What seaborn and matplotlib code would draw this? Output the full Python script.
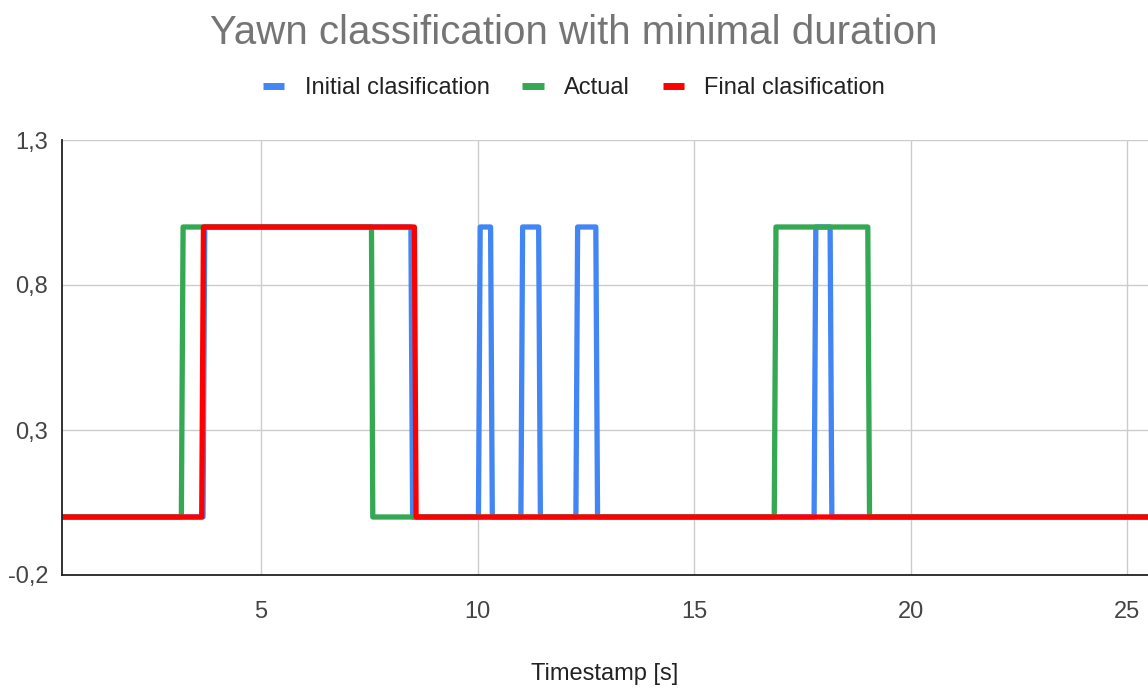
import matplotlib
matplotlib.use("Agg")
import matplotlib.pyplot as plt
from matplotlib.lines import Line2D
from matplotlib.ticker import FuncFormatter
import seaborn as sns
import pandas as pd

# ---- data ----
series_names = ["Initial clasification", "Actual", "Final clasification"]

initial_t = [0.40, 3.66, 3.70, 8.46, 8.50, 10.02, 10.06, 10.30, 10.34, 11.00, 11.04,
             11.41, 11.45, 12.27, 12.31, 12.73, 12.77, 17.77, 17.81, 18.14, 18.18, 25.48]
initial_v = [0, 0, 1, 1, 0, 0, 1, 1, 0, 0, 1, 1, 0, 0, 1, 1, 0, 0, 1, 1, 0, 0]

actual_t = [0.40, 3.16, 3.20, 7.55, 7.58, 16.85, 16.89, 19.01, 19.05, 25.48]
actual_v = [0, 0, 1, 1, 0, 0, 1, 1, 0, 0]

final_t = [0.40, 3.63, 3.67, 8.54, 8.58, 25.48]
final_v = [0, 0, 1, 1, 0, 0]

x_ticks = [5, 10, 15, 20, 25]
y_ticks = [-0.2, 0.3, 0.8, 1.3]

colors = {"Initial clasification": "#4285F4", "Actual": "#34A853", "Final clasification": "#FF0000"}

frames = []
for name, t, v in [(series_names[0], initial_t, initial_v),
                   (series_names[1], actual_t, actual_v),
                   (series_names[2], final_t, final_v)]:
    frames.append(pd.DataFrame({"t": t, "v": v, "series": name, "order": range(len(t))}))
df = pd.concat(frames, ignore_index=True)

# ---- style ----
sns.set_style("white")
plt.rcParams["font.family"] = ["Liberation Sans", "DejaVu Sans"]

W, H = 1148, 688
fig = plt.figure(figsize=(W / 100, H / 100), dpi=100)
ax = fig.add_axes([62 / W, 1 - 575 / H, (W - 62) / W, (575 - 140) / H])

sns.lineplot(data=df, x="t", y="v", hue="series", hue_order=series_names,
             palette=colors, sort=False, estimator=None, linewidth=3.8,
             legend=False, ax=ax)

ax.set_xlim(0.404, 25.48)
ax.set_ylim(-0.2, 1.3)
ax.set_xticks(x_ticks)
ax.set_yticks(y_ticks)
ax.yaxis.set_major_formatter(FuncFormatter(lambda v, p: f"{v:.1f}".replace(".", ",")))
ax.grid(True, color="#cccccc", linewidth=1.0)
ax.set_axisbelow(True)
for s in ["top", "right"]:
    ax.spines[s].set_visible(False)
for s in ["left", "bottom"]:
    ax.spines[s].set_color("#222222")
    ax.spines[s].set_linewidth(1.3)

ax.tick_params(axis="x", direction="inout", length=17, width=1.0, color="#222222",
               labelsize=17, labelcolor="#444444", pad=10)
ax.tick_params(axis="y", length=0, labelsize=17, labelcolor="#444444", pad=10)
ax.set_ylabel("")
ax.set_xlabel("Timestamp [s]", fontsize=17, color="#222222", labelpad=29)

fig.text(0.5, 1 - 33 / H, "Yawn classification with minimal duration",
         ha="center", va="center", fontsize=29, color="#757575")

handles = [Line2D([0], [0], color=colors[n], linewidth=5, solid_capstyle="butt") for n in series_names]
fig.legend(handles, series_names, loc="center", bbox_to_anchor=(0.5, 1 - 88 / H),
           ncol=3, frameon=False, fontsize=17, handlelength=0.9, handletextpad=0.85,
           columnspacing=1.4, labelcolor="#222222")

fig.savefig("out.png", dpi=100)
